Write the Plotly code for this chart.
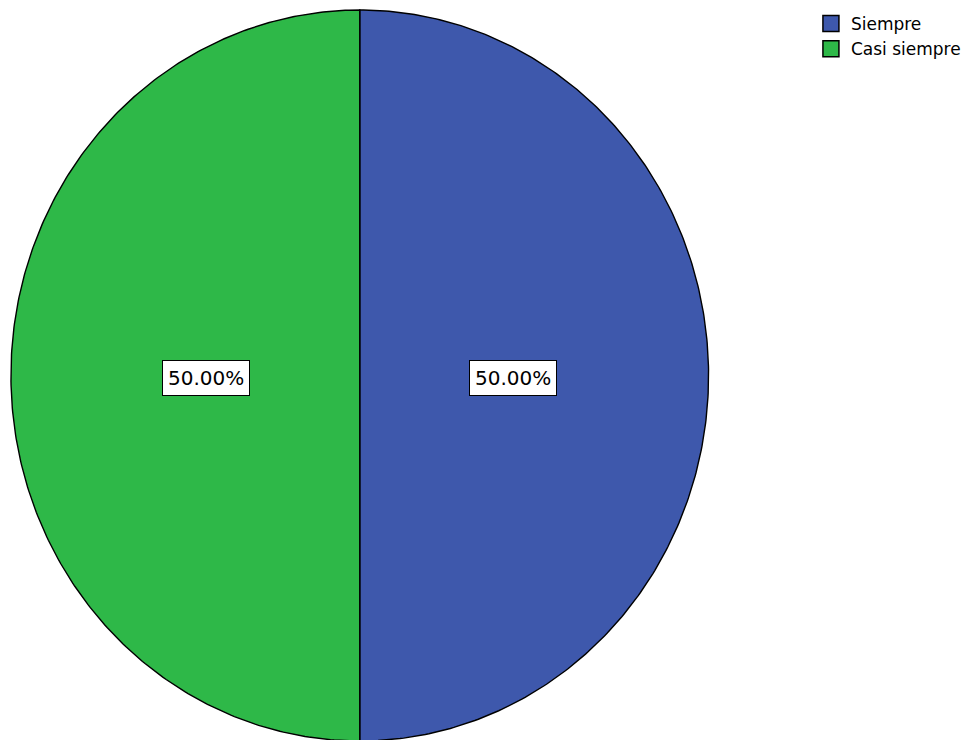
import numpy as np
import plotly.graph_objects as go

# ---- data ----
categories = ["Siempre", "Casi siempre"]
values = [50, 50]
colors = ["#3E58AC", "#2EB848"]

W, H = 966, 740
# ellipse placement in pixels (layout)
cx_px, cy_px = 362.0, 375.5
rx_px, ry_px = 351.0, 365.5

total = float(sum(values))
fig = go.Figure()

start = 90.0  # 12 o'clock, clockwise
annotations = []
for cat, val, col in zip(categories, values, colors):
    sweep = 360.0 * val / total
    ang = np.radians(np.linspace(start, start - sweep, 300))
    xs = np.concatenate([[0.0], np.cos(ang), [0.0]])
    ys = np.concatenate([[0.0], np.sin(ang), [0.0]])
    fig.add_trace(go.Scatter(
        x=xs, y=ys, mode="lines", fill="toself", fillcolor=col,
        line=dict(color="black", width=1.4), showlegend=False,
        hoverinfo="skip"))
    mid = np.radians(start - sweep / 2.0)
    annotations.append(dict(
        x=0.44 * np.cos(mid), y=0.44 * np.sin(mid) - 0.007, xref="x", yref="y",
        text=f"{100.0 * val / total:.2f}%", showarrow=False,
        font=dict(family="DejaVu Sans", size=20, color="black"),
        bgcolor="white", bordercolor="black", borderwidth=1, borderpad=5))
    fig.add_trace(go.Scatter(
        x=[None], y=[None], mode="markers", name=cat,
        marker=dict(symbol="square", size=18, color=col,
                    line=dict(color="black", width=1.5))))
    start -= sweep

# axis ranges so that unit ellipse maps to pixel ellipse
x0 = -cx_px / rx_px
x1 = (W - cx_px) / rx_px
y0 = -(H - cy_px) / ry_px
y1 = cy_px / ry_px

fig.update_layout(
    width=W, height=H,
    margin=dict(l=0, r=0, t=0, b=0),
    paper_bgcolor="white", plot_bgcolor="white",
    xaxis=dict(range=[x0, x1], visible=False, fixedrange=True),
    yaxis=dict(range=[y0, y1], visible=False, fixedrange=True),
    annotations=annotations,
    legend=dict(x=816 / W, y=1 - 6 / H, xanchor="left", yanchor="top",
                font=dict(family="DejaVu Sans", size=17, color="black"),
                itemsizing="trace", tracegroupgap=0, bgcolor="rgba(0,0,0,0)"),
    showlegend=True,
)

fig.write_html("out.html", config={"displayModeBar": False},
               post_script="document.body.style.margin='0px';document.body.style.overflow='hidden';")
